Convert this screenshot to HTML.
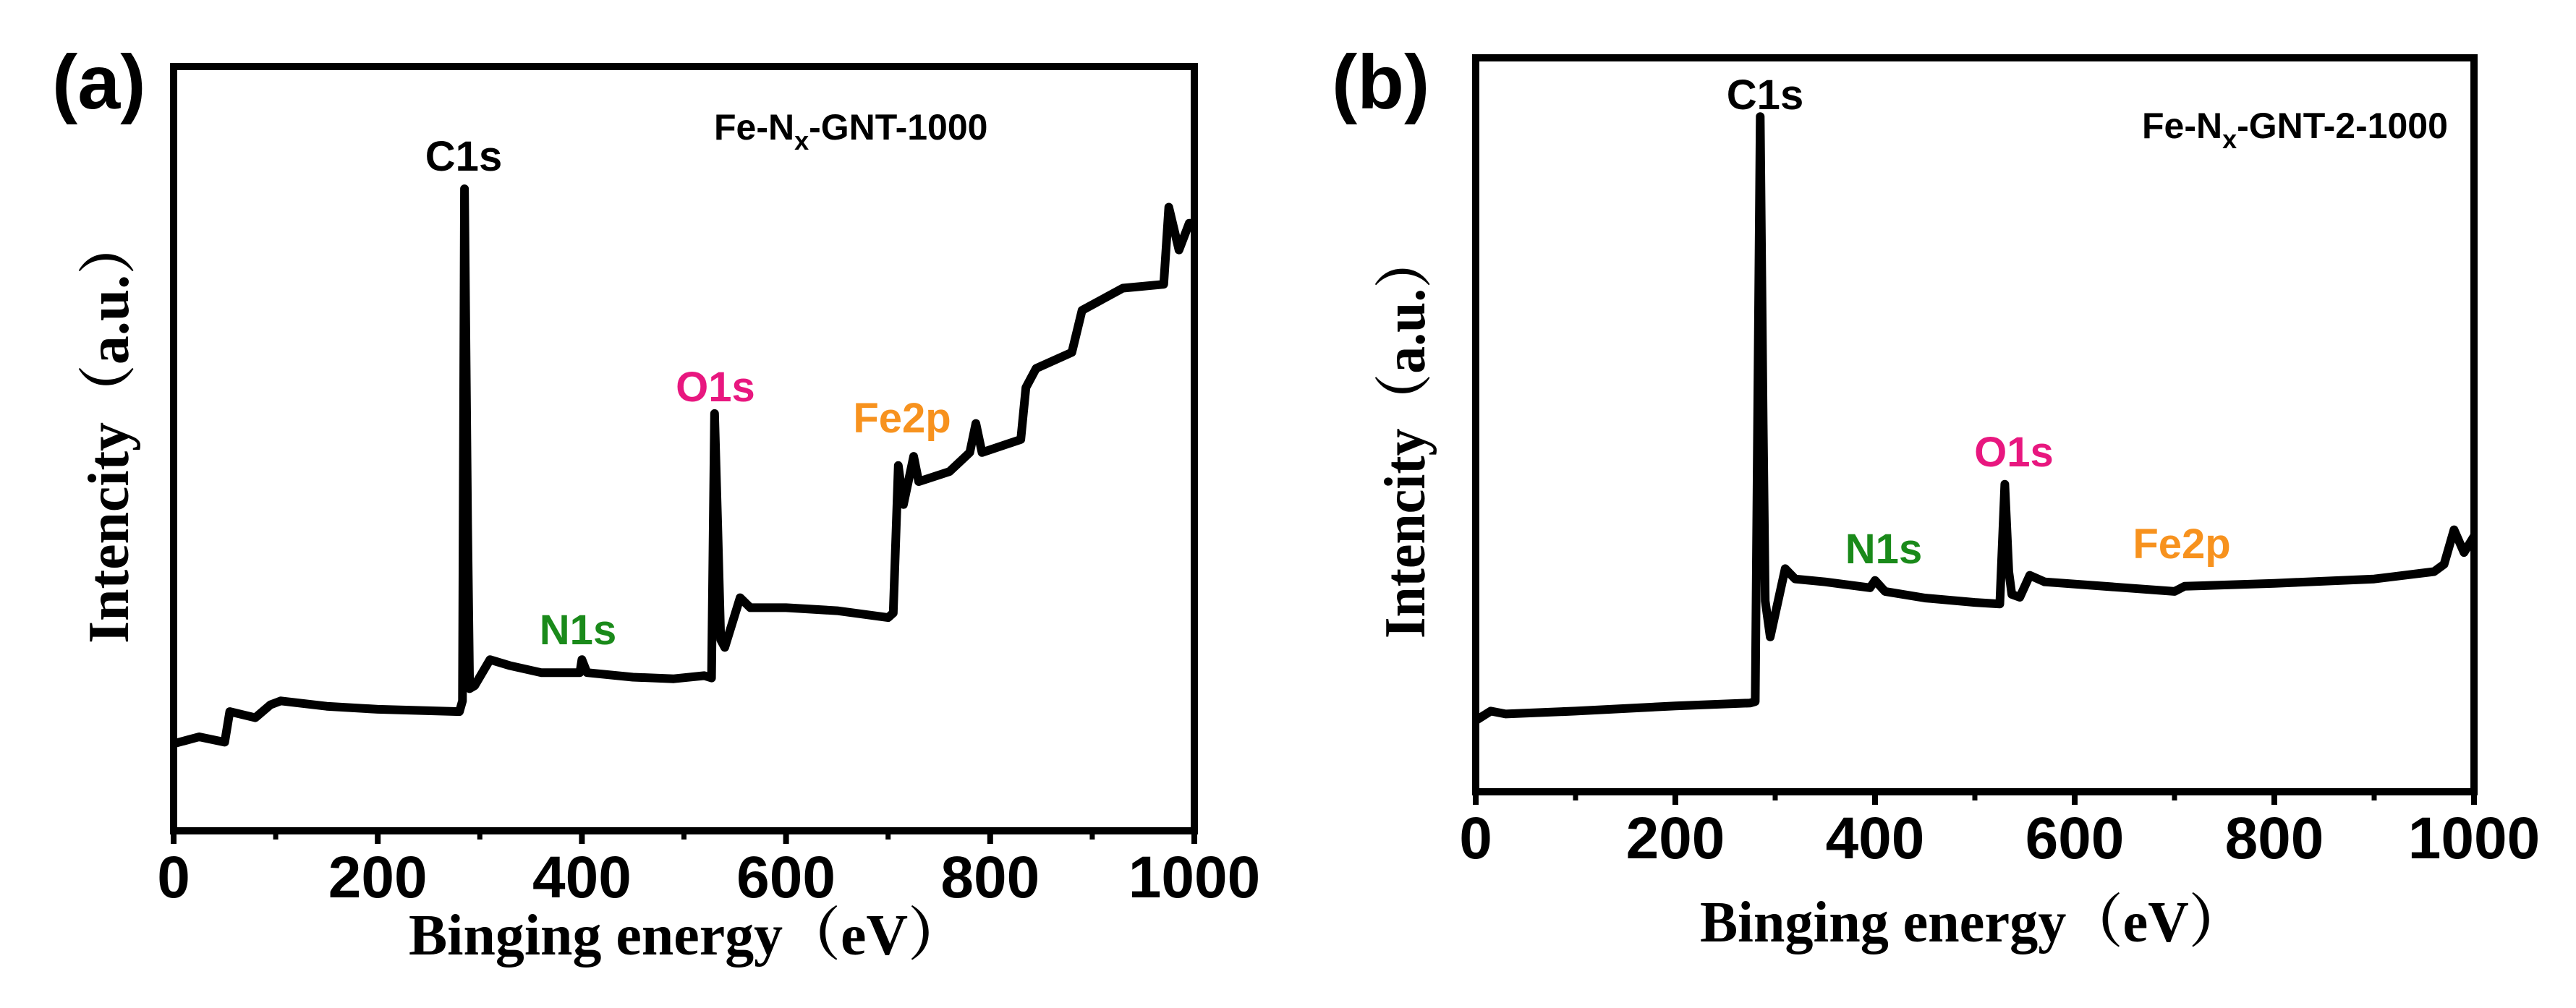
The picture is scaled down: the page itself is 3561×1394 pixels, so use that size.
<!DOCTYPE html>
<html><head><meta charset="utf-8"><style>
html,body{margin:0;padding:0;background:#fff;}
svg{display:block;}
.tk{font-family:"Liberation Sans",sans-serif;font-weight:bold;font-size:82px;fill:#000;}
.ttl{font-family:"Liberation Serif","Noto Serif CJK SC",serif;font-weight:bold;font-size:80px;fill:#000;}
.ann{font-family:"Liberation Sans",sans-serif;font-weight:bold;font-size:58px;}
.smp{font-family:"Liberation Sans",sans-serif;font-weight:bold;font-size:50px;fill:#000;}
.pl{font-family:"Liberation Sans",sans-serif;font-weight:bold;font-size:106px;fill:#000;}
</style></head><body>
<svg id="fig" width="3561" height="1394" viewBox="0 0 3561 1394" xmlns="http://www.w3.org/2000/svg"></svg>
<script>
const xTickValues=[0,200,400,600,800,1000];
const xTickLabels=["0","200","400","600","800","1000"];
const xMinorTicks=[100,300,500,700,900];
const energyA=[0,25,50,55,80,95,105,150,200,280,283,285,288,290,295,310,330,360,398,400,405,450,490,520,527,530,533,536,540,555,565,600,650,700,705,710,715,725,730,760,780,786,792,830,835,845,880,890,930,970,975,985,995,1000];
const intensityA=[11.4,12.3,11.6,15.6,14.8,16.5,17,16.3,15.9,15.6,17,84,40,18.6,19,22.4,21.6,20.7,20.7,22.4,20.7,20.1,19.9,20.3,20,54.6,40,25,24,30.5,29.2,29.2,28.8,27.9,28.5,47.8,42.7,49,45.7,47,49.5,53.3,49.5,51.2,58,60.5,62.6,68.1,71,71.5,81.6,76,79.5,79.5];
const energyB=[0,15,30,100,200,275,280,285,288,290,295,310,320,350,395,400,410,450,500,525,530,534,537,545,555,570,650,700,710,800,900,960,970,980,990,1000];
const intensityB=[9.7,11,10.6,11,11.7,12.1,12.3,92,50,26,21.1,30.4,29,28.6,27.8,28.8,27.3,26.4,25.8,25.6,41.9,30,26.9,26.5,29.5,28.6,27.8,27.3,28,28.4,29,30,31,35.7,32.6,34.8];

const NS="http://www.w3.org/2000/svg";
const svg=document.getElementById('fig');
function mk(tag,attrs,parent){const e=document.createElementNS(NS,tag);for(const k in attrs)e.setAttribute(k,attrs[k]);(parent||svg).appendChild(e);return e;}

function panel(cfg){
  const g=mk('g',{});
  
  
  const X=v=>cfg.x0+(v/1000)*(cfg.x1-cfg.x0);
  const Y=v=>cfg.y1-(v/100)*(cfg.y1-cfg.y0);
  let d='';
  cfg.ex.forEach((e,i)=>{d+=(i?'L':'M')+X(e).toFixed(1)+','+Y(cfg.iy[i]).toFixed(1);});
  const p=mk('path',{d:d,fill:'none',stroke:'#000','stroke-width':12,'stroke-linejoin':'round'},g);
  
  
  const f=mk('rect',{x:cfg.x0,y:cfg.y0,width:cfg.x1-cfg.x0,height:cfg.y1-cfg.y0,fill:'none',stroke:'#000','stroke-width':10},g);
  
  
  xTickValues.forEach((v,i)=>{
    const t=mk('line',{x1:X(v),x2:X(v),y1:cfg.y1,y2:cfg.y1+18,stroke:'#000','stroke-width':8},g);
    
    
    const l=mk('text',{x:X(v),y:cfg.y1+92,'text-anchor':'middle',class:'tk'},g);
    l.textContent=xTickLabels[i];
    
    
  });
  xMinorTicks.forEach(v=>{
    const t=mk('line',{x1:X(v),x2:X(v),y1:cfg.y1,y2:cfg.y1+12,stroke:'#000','stroke-width':7},g);
    
    
  });
  const xt=mk('text',{x:(cfg.xt0+cfg.xt1)/2,y:cfg.xty,'text-anchor':'middle',class:'ttl',textLength:cfg.xt1-cfg.xt0,lengthAdjust:'spacingAndGlyphs'},g);
  xt.textContent='Binging energy（eV）';
  
  
  const yt=mk('text',{x:0,y:0,'text-anchor':'middle',class:'ttl',transform:`translate(${cfg.ytx},${cfg.ytc}) rotate(-90)`,textLength:cfg.ytl,lengthAdjust:'spacingAndGlyphs'},g);
  yt.textContent='Intencity（a.u.）';
  
  
  const pl=mk('text',{x:cfg.plx,y:cfg.ply,class:'pl'},g);
  pl.textContent=cfg.label;
  
  
  const sm=mk('text',{x:cfg.smx,y:cfg.smy,class:'smp'},g);
  sm.innerHTML=cfg.smHTML;
  
  
  cfg.anns.forEach(a=>{
    const t=mk('text',{x:a[1],y:a[2],'text-anchor':'middle',class:'ann',fill:a[3]},g);
    t.textContent=a[0];
    
    
  });
}

panel({id:'panel-a',x0:240,x1:1651,y0:92,y1:1149,ex:energyA,iy:intensityA,
  xt0:565,xt1:1335,xty:1320,ytx:177,ytc:595,ytl:590,plx:72,ply:150,label:'(a)',
  smx:987,smy:193,smHTML:'Fe-N<tspan font-size="36" dy="14">x</tspan><tspan dy="-14">-GNT-1000</tspan>',
  anns:[['C1s',641,236,'#000'],['O1s',989,555,'#e8177f'],['Fe2p',1247,598,'#f7921e'],['N1s',799,891,'#1a8a1a']]});
panel({id:'panel-b',x0:2040,x1:3420,y0:80,y1:1095,ex:energyB,iy:intensityB,
  xt0:2350,xt1:3104,xty:1302,ytx:1969,ytc:603,ytl:560,plx:1841,ply:150,label:'(b)',
  smx:2961,smy:191,smHTML:'Fe-N<tspan font-size="36" dy="14">x</tspan><tspan dy="-14">-GNT-2-1000</tspan>',
  anns:[['C1s',2440,151,'#000'],['O1s',2784,645,'#e8177f'],['Fe2p',3016,772,'#f7921e'],['N1s',2604,779,'#1a8a1a']]});
</script>
</body></html>
